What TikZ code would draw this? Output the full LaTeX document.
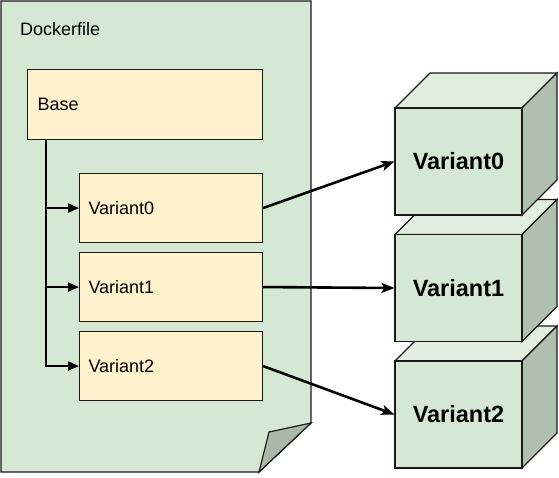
\documentclass[tikz,border=0pt]{standalone}
\usepackage{fontspec}
\setmainfont{Liberation Sans}
\usetikzlibrary{shapes,arrows.meta,positioning}

\definecolor{docgreen}{HTML}{D5E8D4}
\definecolor{topgreen}{HTML}{E2EEE0}
\definecolor{sidegreen}{HTML}{B0C0AE}
\definecolor{foldgreen}{HTML}{A9B9A7}
\definecolor{stagefill}{HTML}{FFF2CC}

\tikzset{
  docline/.style={draw=black!90,line width=1.2pt},
  stagebox/.style={draw=black!90,fill=stagefill,line width=1.1pt,anchor=north west,
    text width=#1,align=left,minimum height=69pt,inner ysep=0pt},
  cubeface/.style={draw=black!90,fill=docgreen,line width=1.1pt,minimum width=127pt,
    minimum height=107pt,font=\fontsize{23.5}{26}\selectfont\bfseries},
  branch/.style={line width=2pt,-{Triangle[length=11pt,width=9pt]}},
  link/.style={line width=2.6pt,->}
}

\begin{document}
\begin{tikzpicture}[x=1pt,y=-1pt,>={Stealth[length=13pt,width=10pt,inset=3pt]},
  font=\fontsize{18}{21}\selectfont]
 \useasboundingbox (0,0) rectangle (559,477);

 % Dockerfile sheet with folded corner
 \draw[docline,fill=docgreen] (1,1) -- (311,1) -- (311,423) -- (259,472) -- (1,472) -- cycle;
 \draw[docline,fill=foldgreen] (311,423) -- (269,432) -- (259,472) -- cycle;
 \node[anchor=base west,inner sep=0pt] (dockerfile) at (20,35) {Dockerfile};

 % Stages
 \node[stagebox=215pt,inner xsep=10pt,minimum height=70pt] (base) at (27,69) {Base};
 \node[stagebox=165pt,inner xsep=9pt] (v0) at (79,173) {Variant0};
 \node[stagebox=165pt,inner xsep=9pt] (v1) at (79,252) {Variant1};
 \node[stagebox=165pt,inner xsep=9pt] (v2) at (79,331) {Variant2};

 \coordinate (trunk) at ([xshift=19pt]base.south west);
 \draw[branch] (trunk) |- (v0.west);
 \draw[branch] (trunk) |- (v1.west);
 \draw[branch] (trunk) |- (v2.west);

 % Images (cubes), lower ones first
 \foreach \n/\ypos in {2/414.5,1/288,0/161.5}{
   \draw[docline,line width=1.1pt,fill=topgreen] (395,\ypos-53.5) -- ++(35,-35) -- ++(127,0) -- ++(-35,35) -- cycle;
   \draw[docline,line width=1.1pt,fill=sidegreen] (522,\ypos-53.5) -- ++(35,-35) -- ++(0,107) -- ++(-35,35) -- cycle;
   \node[cubeface] (cube\n) at (458.5,\ypos) {Variant\n};
 }

 % Build targets
 \draw[link] (v0.east) -- (cube0.west);
 \draw[link] (v1.east) -- (cube1.west);
 \draw[link] (v2.east) -- (cube2.west);
\end{tikzpicture}
\end{document}
